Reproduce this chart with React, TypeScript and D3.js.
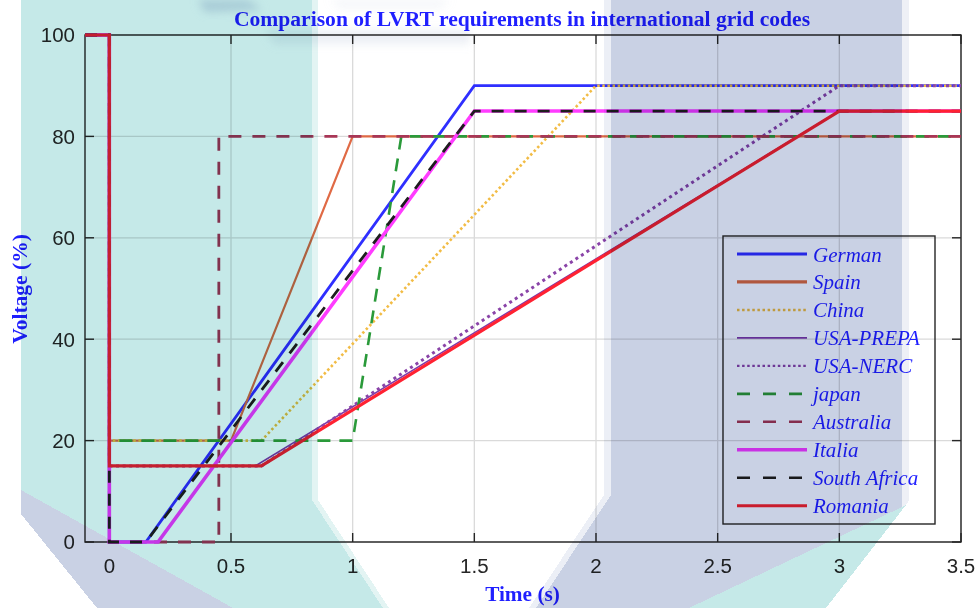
import React from "react";
import * as d3 from "d3";

type Pt = [number, number];

// Series data: [time (s), voltage (%)]
const german: Pt[] = [[-0.1, 100], [0, 100], [0, 0], [0.15, 0], [1.5, 90], [3.5, 90]];
const spain: Pt[] = [[-0.1, 100], [0, 100], [0, 20], [0.5, 20], [1.0, 80], [3.5, 80]];
const china: Pt[] = [[-0.1, 100], [0, 100], [0, 20], [0.625, 20], [2.0, 90], [3.5, 90]];
const usaPrepa: Pt[] = [[-0.1, 100], [0, 100], [0, 15], [0.6, 15], [3.0, 85], [3.5, 85]];
const usaNerc: Pt[] = [[-0.1, 100], [0, 100], [0, 15], [0.625, 15], [3.0, 90], [3.5, 90]];
const japan: Pt[] = [[-0.1, 100], [0, 100], [0, 20], [1.0, 20], [1.2, 80], [3.5, 80]];
const australia: Pt[] = [[-0.1, 100], [0, 100], [0, 0], [0.45, 0], [0.45, 80], [3.5, 80]];
const italia: Pt[] = [[-0.1, 100], [0, 100], [0, 0], [0.2, 0], [1.5, 85], [3.5, 85]];
const southAfrica: Pt[] = [[-0.1, 100], [0, 100], [0, 0], [0.15, 0], [1.5, 85], [3.5, 85]];
const romania: Pt[] = [[-0.1, 100], [0, 100], [0, 15], [0.625, 15], [3.0, 85], [3.5, 85]];

const seriesNames = ["German", "Spain", "China", "USA-PREPA", "USA-NERC", "japan", "Australia", "Italia", "South Africa", "Romania"];
const seriesData = [german, spain, china, usaPrepa, usaNerc, japan, australia, italia, southAfrica, romania];

const xTicks = [0, 0.5, 1, 1.5, 2, 2.5, 3, 3.5];
const yTicks = [0, 20, 40, 60, 80, 100];

const styles = [
  { color: "#2f2fff", width: 2.8, dash: "" },
  { color: "#e06a45", width: 2.2, dash: "" },
  { color: "#f2bc45", width: 2.6, dash: "2.5 2.6" },
  { color: "#7e3aa8", width: 1.6, dash: "" },
  { color: "#8a44a8", width: 3, dash: "3 3.6" },
  { color: "#2a9a3a", width: 2.6, dash: "13 9" },
  { color: "#a83656", width: 2.8, dash: "13 11" },
  { color: "#ff3cff", width: 3.6, dash: "" },
  { color: "#1e1e1e", width: 2.8, dash: "12 11" },
  { color: "#ff2232", width: 3.2, dash: "" },
];
const legendWidths = [3.2, 3.2, 2.4, 1.6, 2.4, 2.6, 2.6, 3.6, 2.6, 3.2];

const W = 978, H = 608;
const L = 85, R = 961, T = 35, B = 542;

export default function App() {
  const x = d3.scaleLinear().domain([-0.1, 3.5]).range([L, R]);
  const y = d3.scaleLinear().domain([0, 100]).range([B, T]);
  const line = d3.line<Pt>().x(d => x(d[0])).y(d => y(d[1]));
  const axisColor = "#262626";
  const blue = "#1f1fff";
  const teal = "#c5e9e8";
  const slate = "#c9d1e4";
  const legX = 723, legY = 236, legW = 212, legH = 288;

  return (
    <svg width={W} height={H} style={{ position: "absolute", left: 0, top: 0 }} xmlns="http://www.w3.org/2000/svg">
      <defs>
        <clipPath id="plotClip">
          <rect x={L - 2} y={T - 3} width={R - L + 4} height={B - T + 6} />
        </clipPath>
        <filter id="blur4" x="-20%" y="-50%" width="140%" height="200%">
          <feGaussianBlur stdDeviation="4" />
        </filter>
      </defs>
      <rect x={0} y={0} width={W} height={H} fill="#ffffff" />

      {/* grid */}
      <g stroke="#dadada" strokeWidth={1.3}>
        {xTicks.map(t => <line key={"gx" + t} x1={x(t)} x2={x(t)} y1={T} y2={B} />)}
        {yTicks.map(t => <line key={"gy" + t} x1={L} x2={R} y1={y(t)} y2={y(t)} />)}
      </g>

      {/* axes box and ticks */}
      <g stroke={axisColor} strokeWidth={1.4} fill="none">
        <rect x={L} y={T} width={R - L} height={B - T} />
        {xTicks.map(t => (
          <g key={"tx" + t}>
            <line x1={x(t)} x2={x(t)} y1={B} y2={B - 9} />
            <line x1={x(t)} x2={x(t)} y1={T} y2={T + 9} />
          </g>
        ))}
        {yTicks.map(t => (
          <g key={"ty" + t}>
            <line x1={L} x2={L + 9} y1={y(t)} y2={y(t)} />
            <line x1={R} x2={R - 9} y1={y(t)} y2={y(t)} />
          </g>
        ))}
      </g>
      <g fill={axisColor} fontFamily="'Liberation Sans', Arial, sans-serif" fontSize={20.5}>
        {xTicks.map(t => (
          <text key={"lx" + t} x={x(t)} y={573} textAnchor="middle">{String(t)}</text>
        ))}
        {yTicks.map(t => (
          <text key={"ly" + t} x={75} y={y(t)} dy="0.36em" textAnchor="end">{String(t)}</text>
        ))}
      </g>

      {/* series */}
      <g clipPath="url(#plotClip)" fill="none" strokeLinejoin="miter">
        {seriesData.map((d, i) => (
          <path key={seriesNames[i]} d={line(d) || ""} stroke={styles[i].color} strokeWidth={styles[i].width}
            strokeDasharray={styles[i].dash || undefined} />
        ))}
      </g>

      {/* legend */}
      <rect x={legX} y={legY} width={legW} height={legH} fill="none" stroke={axisColor} strokeWidth={1.4} />
      {seriesNames.map((n, i) => {
        const cy = 254 + i * 27.97;
        return (
          <g key={"leg" + n}>
            <line x1={737} x2={807} y1={cy} y2={cy} stroke={styles[i].color} strokeWidth={legendWidths[i]}
              strokeDasharray={styles[i].dash ? (styles[i].dash.startsWith("1") ? "13 13" : "2.5 2.6") : undefined} />
            <text x={813} y={cy + 7.5} fill={blue} fontFamily="'Liberation Serif', 'Times New Roman', serif"
              fontStyle="italic" fontSize={21}>{n}</text>
          </g>
        );
      })}

      {/* titles */}
      <text x={522} y={26} textAnchor="middle" fill={blue} fontFamily="'Liberation Serif', 'Times New Roman', serif"
        fontWeight="bold" fontSize={21.6}>Comparison of LVRT requirements in international grid codes</text>
      <text x={522.5} y={601} textAnchor="middle" fill={blue} fontFamily="'Liberation Serif', 'Times New Roman', serif"
        fontWeight="bold" fontSize={21.3}>Time (s)</text>
      <text transform="translate(27,289) rotate(-90)" textAnchor="middle" fill={blue}
        fontFamily="'Liberation Serif', 'Times New Roman', serif" fontWeight="bold" fontSize={21.5}>Voltage (%)</text>

      {/* overlay shapes (multiply) */}
      <g style={{ mixBlendMode: "multiply" }} shapeRendering="crispEdges">
        <polygon points="21,0 312,0 312,500 383,608 233,608 21,490" fill={teal} />
        <polygon points="312,0 318,0 318,500 389,608 383,608 312,500" fill="#e3f4f3" />
        <polygon points="21,490 233,608 97,608 21,514" fill={slate} />
        <polygon points="611,0 902,0 902,507 689,608 536,608 611,495" fill={slate} />
        <polygon points="604,0 611,0 611,495 536,608 529,608 604,495" fill="#eceff6" />
        <polygon points="902,0 909,0 909,500 905,507 902,507" fill="#eef0f6" />
        <polygon points="689,608 826,608 906,505 902,507" fill={teal} />
      </g>
      <g style={{ mixBlendMode: "multiply" }} filter="url(#blur4)" opacity={0.7}>
        <polygon points="198,0 248,0 262,10 205,12" fill={slate} />
        <polygon points="265,30 470,30 470,44 275,44" fill={slate} opacity={0.5} />
        <polygon points="330,0 450,0 440,8 340,8" fill={slate} opacity={0.3} />
      </g>
    </svg>
  );
}
